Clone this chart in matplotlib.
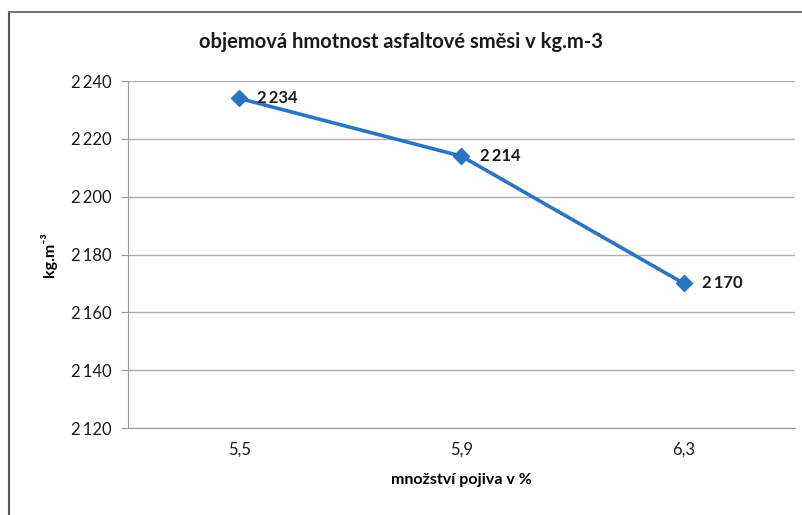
import matplotlib.pyplot as plt
from matplotlib.lines import Line2D

# data
categories = ["5,5", "5,9", "6,3"]
values = [2234, 2214, 2170]
y_ticks = [2120, 2140, 2160, 2180, 2200, 2220, 2240]

plt.rcParams['font.family'] = ['Lato', 'DejaVu Sans']


def fmt(v):
    s = str(v)
    return s[0] + "\u2009" + s[1:]


fig = plt.figure(figsize=(8.03, 5.15), dpi=100)
ax = fig.add_axes([128 / 803, 1 - 428 / 515, (795 - 128) / 803, (428 - 81) / 515])

x = list(range(len(categories)))
ax.plot(x, values, color="#2a74c4", linewidth=2.6, marker="D", markersize=8.5,
        markerfacecolor="#2a74c4", markeredgecolor="#2a74c4", zorder=3)

for xi, v in zip(x, values):
    ax.annotate(fmt(v), (xi, v), xytext=(13, 0), textcoords="offset points",
                ha="left", va="center", fontsize=12, fontweight="bold", color="#1a1a1a")

ax.set_xlim(-0.5, 2.5)
ax.set_ylim(2120, 2240)
ax.set_xticks(x)
ax.set_xticklabels(categories, fontsize=12, color="#1a1a1a")
ax.set_yticks(y_ticks)
ax.set_yticklabels([fmt(t) for t in y_ticks], fontsize=12, color="#1a1a1a")
ax.tick_params(axis="x", length=0, pad=10)
ax.tick_params(axis="y", length=5, color="#999999", pad=7)
ax.grid(axis="y", color="#b0b0b0", linewidth=1)
ax.set_axisbelow(True)
for side in ["top", "right"]:
    ax.spines[side].set_visible(False)
ax.spines["left"].set_color("#999999")
ax.spines["bottom"].set_color("#999999")

ax.set_xlabel("množství pojiva v %", fontsize=11.5, fontweight="bold", labelpad=11)
ax.set_ylabel("kg.m⁻³", fontsize=11.5, fontweight="bold", labelpad=10)
fig.text(0.5, 1 - 42 / 515, "objemová hmotnost asfaltové směsi v kg.m-3",
         ha="center", va="center", fontsize=14.5, fontweight="bold", color="#1a1a1a")

# outer chart frame (only left and top edges visible in the scan)
fig.add_artist(Line2D([9 / 803, 9 / 803], [0, 1 - 12 / 515], transform=fig.transFigure,
                      color="#555555", linewidth=1.5))
fig.add_artist(Line2D([9 / 803, 1], [1 - 12 / 515, 1 - 12 / 515], transform=fig.transFigure,
                      color="#777777", linewidth=1.5))

fig.savefig("out.png", dpi=100)
